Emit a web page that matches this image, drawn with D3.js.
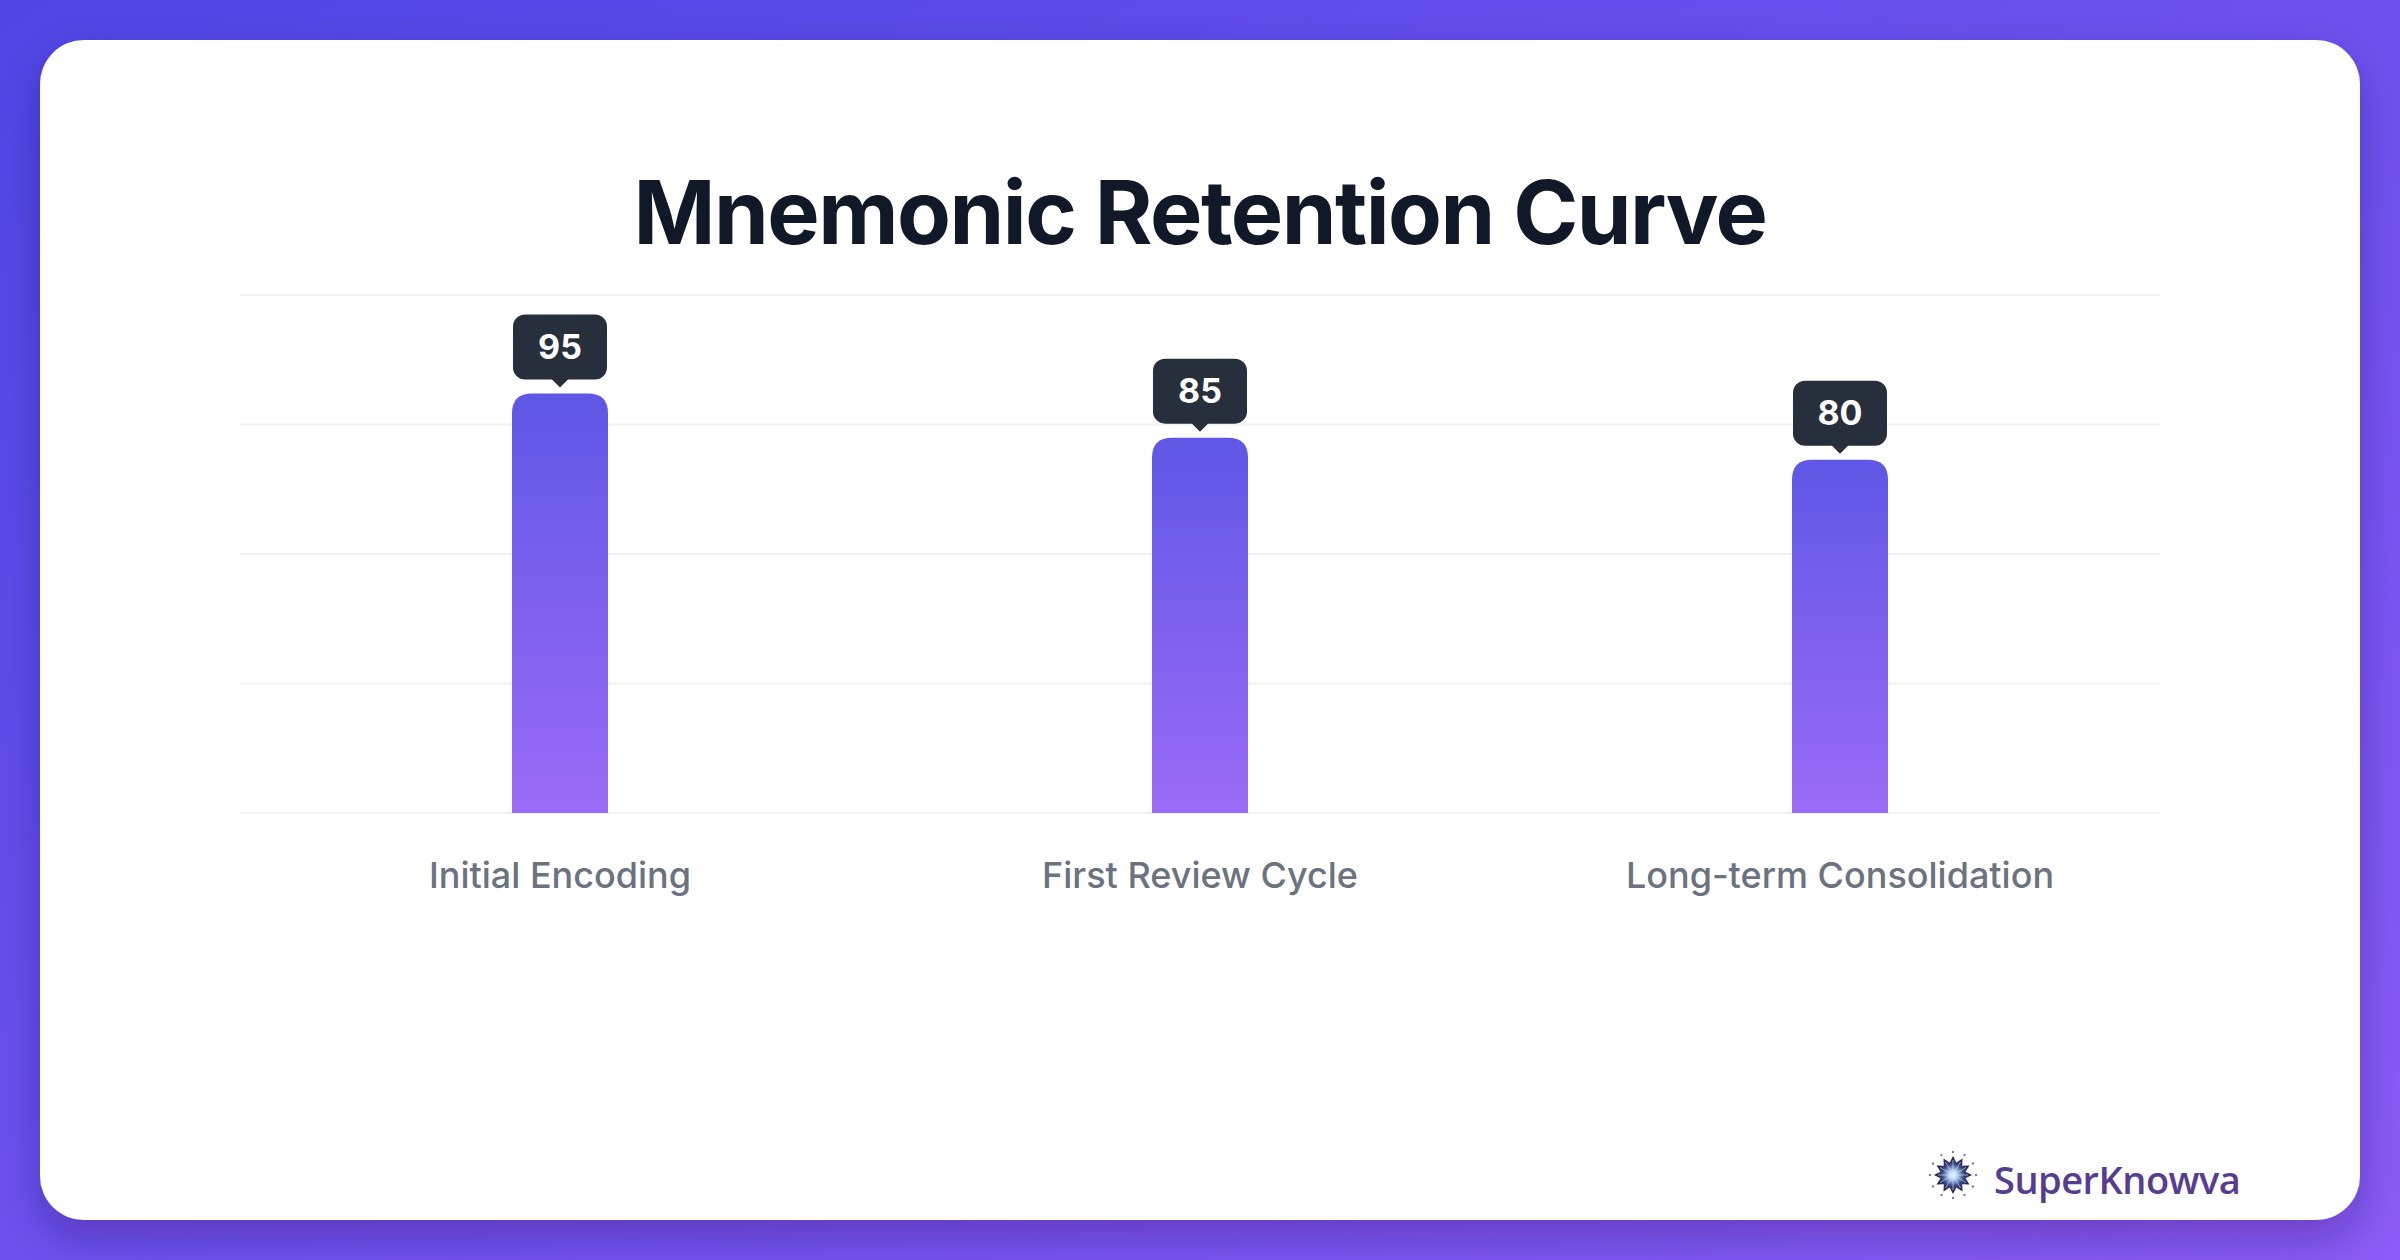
<!DOCTYPE html>
<html lang="en">
<head>
<meta charset="UTF-8">
<style>
  body { margin: 0; }
  svg { display: block; }
</style>
</head>
<body>
<script src="https://d3js.org/d3.v7.min.js"></script>
<script>
  // chart data
  var categories = ['Initial Encoding', 'First Review Cycle', 'Long-term Consolidation']
  var retention = [95, 85, 80]
  var yMax = 117.3
  var gridCount = 4

  var W = 2400, H = 1260
  var svg = d3.select('body').append('svg')
    .attr('width', W)
    .attr('height', H)

  var defs = svg.append('defs')

  var bg = defs.append('linearGradient').attr('id', 'bg')
    .attr('x1', '0').attr('y1', '0').attr('x2', '1').attr('y2', '1')
  bg.append('stop').attr('offset', '0%').attr('stop-color', '#4f46e5')
  bg.append('stop').attr('offset', '100%').attr('stop-color', '#8b5cf6')

  var barGrad = defs.append('linearGradient').attr('id', 'barGrad')
    .attr('x1', '0').attr('y1', '0').attr('x2', '0').attr('y2', '1')
  barGrad.append('stop').attr('offset', '0%').attr('stop-color', '#5f57e5')
  barGrad.append('stop').attr('offset', '100%').attr('stop-color', '#9a6bf6')

  var shadow = defs.append('filter').attr('id', 'shadow')
    .attr('x', '-10%').attr('y', '-10%').attr('width', '120%').attr('height', '130%')
  shadow.append('feDropShadow')
    .attr('dx', 0).attr('dy', 18).attr('stdDeviation', 22)
    .attr('flood-color', '#1e1050').attr('flood-opacity', 0.3)

  var star = defs.append('radialGradient').attr('id', 'starGrad')
  star.append('stop').attr('offset', '0%').attr('stop-color', '#ffffff')
  star.append('stop').attr('offset', '25%').attr('stop-color', '#a9cdf2')
  star.append('stop').attr('offset', '60%').attr('stop-color', '#34407a')
  star.append('stop').attr('offset', '100%').attr('stop-color', '#1f1a46')

  // background + card
  svg.append('rect').attr('width', W).attr('height', H).attr('fill', 'url(#bg)')
  svg.append('rect')
    .attr('x', 40).attr('y', 40)
    .attr('width', 2320).attr('height', 1180)
    .attr('rx', 44)
    .attr('fill', '#ffffff')
    .attr('filter', 'url(#shadow)')

  // title
  svg.append('text')
    .attr('x', 1200).attr('y', 244)
    .attr('text-anchor', 'middle')
    .style('font-family', 'Inter, sans-serif')
    .style('font-weight', 700)
    .style('font-size', '88px')
    .style('letter-spacing', '-1.5px')
    .attr('fill', '#111827')
    .text('Mnemonic Retention Curve')

  var x = d3.scaleBand().domain(categories).range([240, 2160]).padding(0)
  var y = d3.scaleLinear().domain([0, yMax]).range([813, 295])

  // gridlines
  var gridVals = d3.range(gridCount + 1).map(function (i) { return yMax * i / gridCount })
  svg.append('g').selectAll('line')
    .data(gridVals)
    .enter().append('line')
    .attr('x1', 240).attr('x2', 2160)
    .attr('y1', function (d) { return y(d) })
    .attr('y2', function (d) { return y(d) })
    .attr('stroke', '#f0f1f4')
    .attr('stroke-width', 2)

  var barW = x.bandwidth() * 0.15
  var r = 20

  function barPath(cx, top, bottom) {
    var l = cx - barW / 2, rt = cx + barW / 2
    return 'M' + l + ',' + bottom +
      'V' + (top + r) +
      'Q' + l + ',' + top + ' ' + (l + r) + ',' + top +
      'H' + (rt - r) +
      'Q' + rt + ',' + top + ' ' + rt + ',' + (top + r) +
      'V' + bottom + 'Z'
  }

  var bars = svg.append('g').selectAll('g')
    .data(categories)
    .enter().append('g')

  bars.append('path')
    .attr('d', function (d, i) {
      return barPath(x(d) + x.bandwidth() / 2, y(retention[i]), y(0))
    })
    .attr('fill', 'url(#barGrad)')

  // value tooltips
  var boxW = 94, boxH = 65
  bars.append('rect')
    .attr('x', function (d) { return x(d) + x.bandwidth() / 2 - boxW / 2 })
    .attr('y', function (d, i) { return y(retention[i]) - 14 - boxH })
    .attr('width', boxW).attr('height', boxH)
    .attr('rx', 12)
    .attr('fill', '#272f3d')
  bars.append('path')
    .attr('d', function (d, i) {
      var cx = x(d) + x.bandwidth() / 2, b = y(retention[i]) - 14
      return 'M' + (cx - 9) + ',' + (b - 1) + 'L' + (cx + 9) + ',' + (b - 1) + 'L' + cx + ',' + (b + 8) + 'Z'
    })
    .attr('fill', '#272f3d')
  bars.append('text')
    .attr('x', function (d) { return x(d) + x.bandwidth() / 2 })
    .attr('y', function (d, i) { return y(retention[i]) - 14 - boxH / 2 + 12 })
    .attr('text-anchor', 'middle')
    .style('font-family', 'Inter, sans-serif')
    .style('font-weight', 700)
    .style('font-size', '34px')
    .attr('fill', '#ffffff')
    .text(function (d, i) { return retention[i] })

  // category labels
  svg.append('g').selectAll('text')
    .data(categories)
    .enter().append('text')
    .attr('x', function (d) { return x(d) + x.bandwidth() / 2 })
    .attr('y', 888)
    .attr('text-anchor', 'middle')
    .style('font-family', 'Inter, sans-serif')
    .style('font-weight', 500)
    .style('font-size', '36px')
    .attr('fill', '#6b7280')
    .text(function (d) { return d })

  // brand mark
  var logo = svg.append('g').attr('transform', 'translate(1953,1175)')
  var pts = []
  for (var k = 0; k < 24; k++) {
    var a = k * Math.PI / 12 - Math.PI / 2
    var rr = k % 2 === 0 ? 19 : 13
    pts.push([rr * Math.cos(a), rr * Math.sin(a)])
  }
  logo.append('path')
    .attr('d', d3.line()(pts) + 'Z')
    .attr('fill', 'url(#starGrad)')
  for (var j = 0; j < 12; j++) {
    var ang = j * Math.PI / 6 - Math.PI / 2
    logo.append('line')
      .attr('x1', 0).attr('y1', 0)
      .attr('x2', 15 * Math.cos(ang)).attr('y2', 15 * Math.sin(ang))
      .attr('stroke', '#dbe9ff').attr('stroke-width', 1).attr('opacity', 0.6)
    logo.append('circle')
      .attr('cx', 23 * Math.cos(ang)).attr('cy', 23 * Math.sin(ang))
      .attr('r', 1.2).attr('fill', '#6f7fb8')
  }

  svg.append('text')
    .attr('x', 1994).attr('y', 1194)
    .style('font-family', '"Open Sans", sans-serif')
    .style('font-weight', 600)
    .style('font-size', '38px')
    .style('letter-spacing', '-0.5px')
    .attr('fill', '#573d8f')
    .text('SuperKnowva')
</script>
</body>
</html>
